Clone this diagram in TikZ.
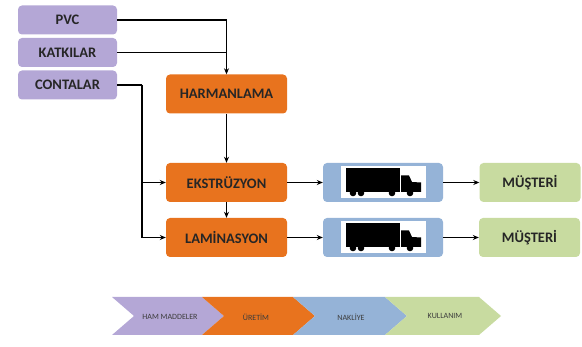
\documentclass[tikz,border=0pt]{standalone}
\usepackage{fontspec}
\setmainfont{Carlito}
\usetikzlibrary{arrows.meta}
\definecolor{rawcol}{HTML}{B4A7D6}
\definecolor{prodcol}{HTML}{E8731E}
\definecolor{shipcol}{HTML}{95B3D7}
\definecolor{usecol}{HTML}{C8DBA0}
\definecolor{txtcol}{HTML}{262626}
\begin{document}
\begin{tikzpicture}[x=1pt, y=-1pt,
    box/.style={rounded corners=4pt, minimum height=29pt, text=txtcol, font=\fontsize{14.5}{16}\bfseries, inner sep=0pt},
    raw/.style={box, fill=rawcol, minimum width=99pt},
    prod/.style={box, fill=prodcol, minimum width=121pt, minimum height=39pt},
    ship/.style={box, fill=shipcol, minimum width=120pt, minimum height=39pt},
    user/.style={box, fill=usecol, minimum width=101pt, minimum height=39pt},
    flow/.style={line width=1.4pt, -{Stealth[length=6pt, width=5pt]}},
    stage/.style={font=\fontsize{8}{9}\selectfont, text=txtcol!90}]
      \useasboundingbox (0,0) rectangle (582,347);

      \node[raw] (pvc) at (67.5, 20) {PVC};
      \node[raw] (kat) at (67.5, 52.5) {KATKILAR};
      \node[raw] (con) at (67.5, 85) {CONTALAR};
      \node[prod] (harm) at (226.5, 94) {HARMANLAMA};
      \node[prod] (eks) at (226.5, 182.5) {EKSTRÜZYON};
      \node[prod] (lam) at (226.5, 237.5) {LAMİNASYON};
      \node[ship] (truckA) at (383, 182.5) {};
      \node[ship] (truckB) at (383, 237.5) {};
      \node[user] (musA) at (530, 182.5) {MÜŞTERİ};
      \node[user] (musB) at (529.5, 237.5) {MÜŞTERİ};
      \coordinate (bend) at (142, 85);

      % trucks
      \foreach \t in {truckA, truckB} {
        \begin{scope}[shift={(\t.center)}]
          \fill[white] (-42,-16) rectangle (43,15.5);
          \fill[black] (-37,-14.5) rectangle (17,9.5);
          \fill[black] (18,9.5) -- (18,-7) -- (26,-7) -- (29,-0.5) -- (38,0) -- (38,9.5) -- cycle;
          \foreach \w in {-30,-22,9,27}
            \fill[black] (\w,10.5) circle (3.3pt);
        \end{scope}
      }

      \draw[flow] (pvc.east) -| (harm.north);
      \draw[line width=1.4pt] (kat.east) -- (kat.east -| harm.north);
      \draw[flow] (harm.south) -- (eks.north);
      \draw[flow] (eks.south) -- (lam.north);
      \draw[line width=1.4pt] (con.east) -- (bend);
      \draw[flow] (bend) |- (eks.west);
      \draw[flow] (bend) |- (lam.west);
      \draw[flow] (eks.east) -- (truckA.west);
      \draw[flow] (lam.east) -- (truckB.west);
      \draw[flow] (truckA.east) -- (musA.west);
      \draw[flow] (truckB.east) -- (musB.west);

      % stages
      \fill[rawcol] (112,297) -- (202,297) -- (224,316) -- (202,335) -- (112,335) -- (134,316) -- cycle;
      \fill[prodcol] (202,297) -- (293,297) -- (315,316) -- (293,335) -- (202,335) -- (224,316) -- cycle;
      \fill[shipcol] (293,297) -- (385,297) -- (407,316) -- (385,335) -- (293,335) -- (315,316) -- cycle;
      \fill[usecol] (385,297) -- (479,297) -- (501,316) -- (479,335) -- (385,335) -- (407,316) -- cycle;
      \node[stage] (hm) at (170, 317) {HAM MADDELER};
      \node[stage] (ur) at (256, 317) {ÜRETİM};
      \node[stage] (nk) at (351, 317) {NAKLİYE};
      \node[stage] (kl) at (445, 316) {KULLANIM};
    \end{tikzpicture}
\end{document}
